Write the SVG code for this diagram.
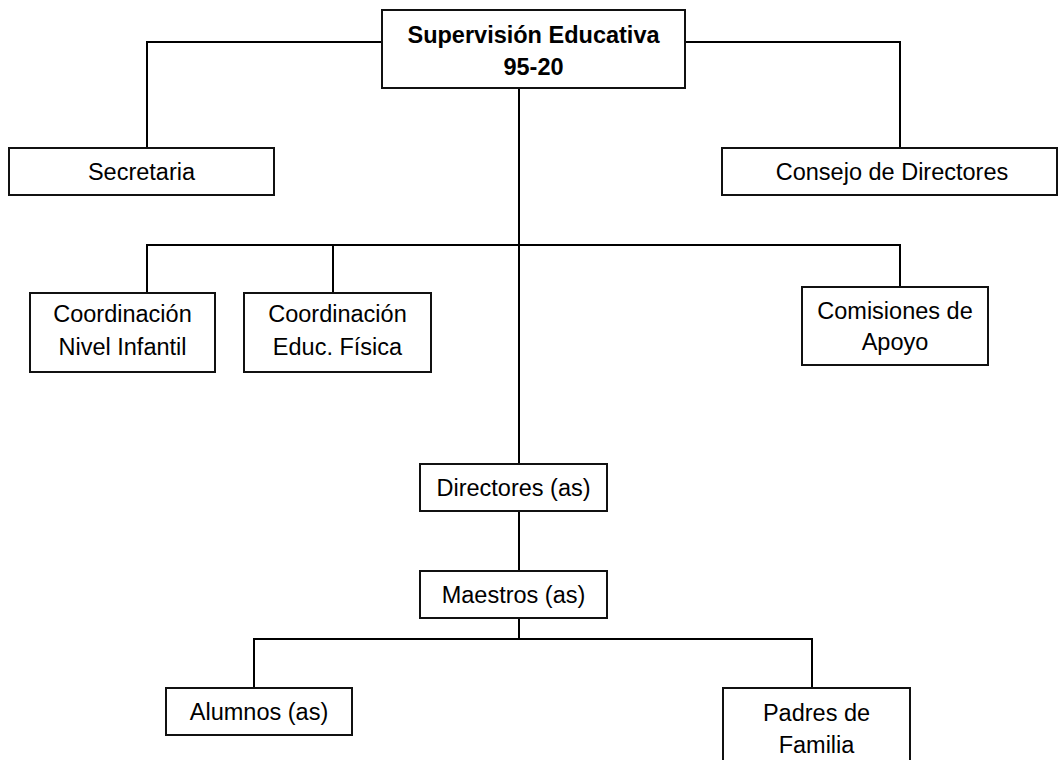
<svg xmlns="http://www.w3.org/2000/svg" width="1058" height="760" viewBox="0 0 1058 760">
<style>
.box{fill:#fff;stroke:#111;stroke-width:2}
.ln{fill:none;stroke:#000;stroke-width:2}
text{font-family:"Liberation Sans",Arial,sans-serif;font-size:23.5px;fill:#000;text-anchor:middle}
.b{font-weight:bold}
</style>
<rect width="1058" height="760" fill="#fff"/>
<g id="connectors">
<polyline class="ln" points="382,42 147,42 147,148"/>
<polyline class="ln" points="685,42 900,42 900,148"/>
<line class="ln" x1="519" y1="88" x2="519" y2="464"/>
<polyline class="ln" points="147,293 147,245 900,245 900,287"/>
<line class="ln" x1="333" y1="245" x2="333" y2="293"/>
<line class="ln" x1="519" y1="511" x2="519" y2="571"/>
<line class="ln" x1="519" y1="618" x2="519" y2="639"/>
<polyline class="ln" points="254,688 254,639 812,639 812,688"/>
</g>
<g id="supervision">
<rect class="box" x="382" y="10" width="303" height="78"/>
<text class="b" x="533.5" y="43">Supervisión Educativa</text>
<text class="b" x="533.5" y="75">95-20</text>
</g>
<g id="secretaria">
<rect class="box" x="9" y="148" width="265" height="47"/>
<text x="141.5" y="180">Secretaria</text>
</g>
<g id="consejo">
<rect class="box" x="722" y="148" width="335" height="47"/>
<text x="892" y="180">Consejo de Directores</text>
</g>
<g id="coord-infantil">
<rect class="box" x="30" y="293" width="185" height="79"/>
<text x="122.5" y="322">Coordinación</text>
<text x="122.5" y="355">Nivel Infantil</text>
</g>
<g id="coord-fisica">
<rect class="box" x="244" y="293" width="187" height="79"/>
<text x="337.5" y="322">Coordinación</text>
<text x="337.5" y="355">Educ. Física</text>
</g>
<g id="comisiones">
<rect class="box" x="802" y="287" width="186" height="78"/>
<text x="895" y="319">Comisiones de</text>
<text x="895" y="350">Apoyo</text>
</g>
<g id="directores">
<rect class="box" x="420" y="464" width="187" height="47"/>
<text x="513.5" y="496">Directores (as)</text>
</g>
<g id="maestros">
<rect class="box" x="420" y="571" width="187" height="47"/>
<text x="513.5" y="603">Maestros (as)</text>
</g>
<g id="alumnos">
<rect class="box" x="166" y="688" width="186" height="47"/>
<text x="259" y="720">Alumnos (as)</text>
</g>
<g id="padres">
<rect class="box" x="723" y="688" width="187" height="82"/>
<text x="816.5" y="721">Padres de</text>
<text x="816.5" y="753">Familia</text>
</g>
</svg>
